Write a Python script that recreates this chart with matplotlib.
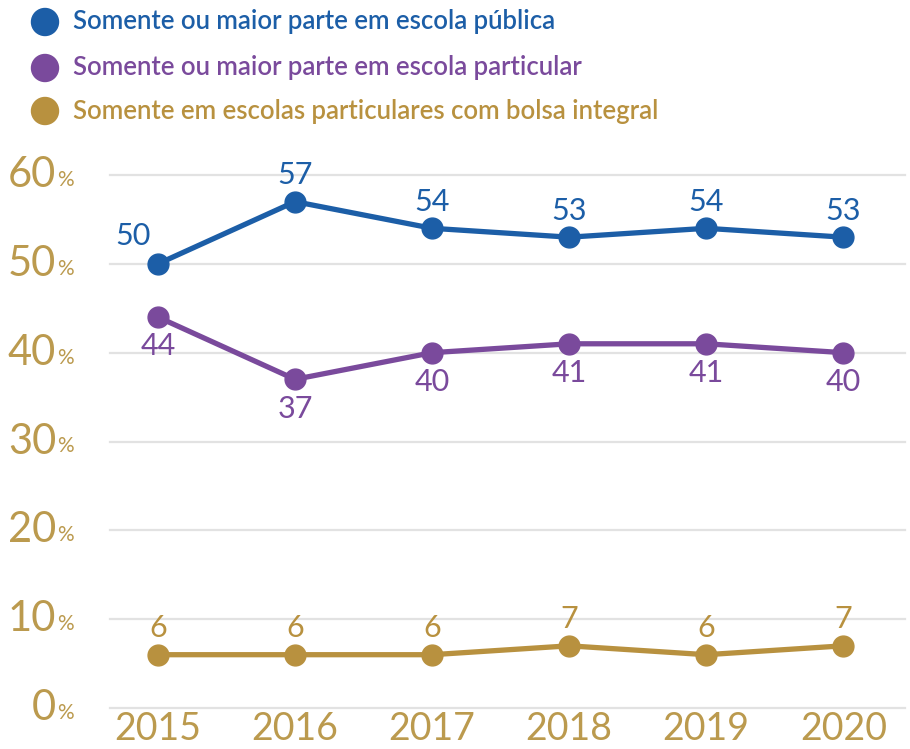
import matplotlib.pyplot as plt
from matplotlib.patches import Ellipse
from matplotlib.transforms import blended_transform_factory, offset_copy

years = [2015, 2016, 2017, 2018, 2019, 2020]
publica = [50, 57, 54, 53, 54, 53]
particular = [44, 37, 40, 41, 41, 40]
bolsa = [6, 6, 6, 7, 6, 7]
yticks = [0, 10, 20, 30, 40, 50, 60]
legend_labels = ['Somente ou maior parte em escola pública',
                 'Somente ou maior parte em escola particular',
                 'Somente em escolas particulares com bolsa integral']

blue = '#1c5ea7'
purple = '#7a4a9c'
gold = '#b8913f'
tick_color = '#bb9a4e'

plt.rcParams['font.family'] = ['Lato', 'DejaVu Sans']

W, H = 910, 749
fig = plt.figure(figsize=(W / 100, H / 100), dpi=100)
ax = fig.add_axes([110 / W, (H - 708) / H, 795 / W, (708 - 175) / H])
ax.set_xlim(2014.65, 2020.45)
ax.set_ylim(0, 60)

for y in yticks:
    ax.axhline(y, color='#e2e2e2', lw=1.6, zorder=0, clip_on=False)

series = [(publica, blue, 'above'), (particular, purple, 'below'), (bolsa, gold, 'above')]
for vals, col, pos in series:
    ax.plot(years, vals, color=col, lw=3.8, marker='o', markersize=15,
            solid_capstyle='round', clip_on=False, zorder=3)
    for i, (x, v) in enumerate(zip(years, vals)):
        if pos == 'above':
            dx, dy = 0, 9
            if vals is publica and i == 0:
                dx, dy = -18, 10
            ax.annotate(str(v), (x, v), xytext=(dx, dy), textcoords='offset points',
                        ha='center', va='bottom', color=col, fontsize=22)
        else:
            ax.annotate(str(v), (x, v), xytext=(0, -11), textcoords='offset points',
                        ha='center', va='top', color=col, fontsize=22)

for s in ax.spines.values():
    s.set_visible(False)
ax.set_xticks(years)
ax.set_xticklabels([str(y) for y in years], fontsize=27, color=tick_color)
ax.tick_params(axis='x', length=0, pad=2)
ax.set_yticks([])

tr = blended_transform_factory(fig.transFigure, ax.transData)
for y in yticks:
    fig.text(56 / W, y, str(y), transform=tr, ha='right', va='center',
             fontsize=30, color=tick_color)
    fig.text(57 / W, y, '%', transform=offset_copy(tr, fig=fig, x=0, y=-5, units='dots'),
             ha='left', va='center', fontsize=15, color=tick_color)

leg_y = [22, 68, 111]
for lab, col, yy in zip(legend_labels, [blue, purple, gold], leg_y):
    fig.add_artist(Ellipse((45 / W, 1 - yy / H), 27 / W, 27 / H,
                           transform=fig.transFigure, color=col))
    fig.text(73 / W, 1 - yy / H, lab, ha='left', va='center', fontsize=18.5,
             fontweight='semibold', color=col)

fig.savefig('out.png', dpi=100)
